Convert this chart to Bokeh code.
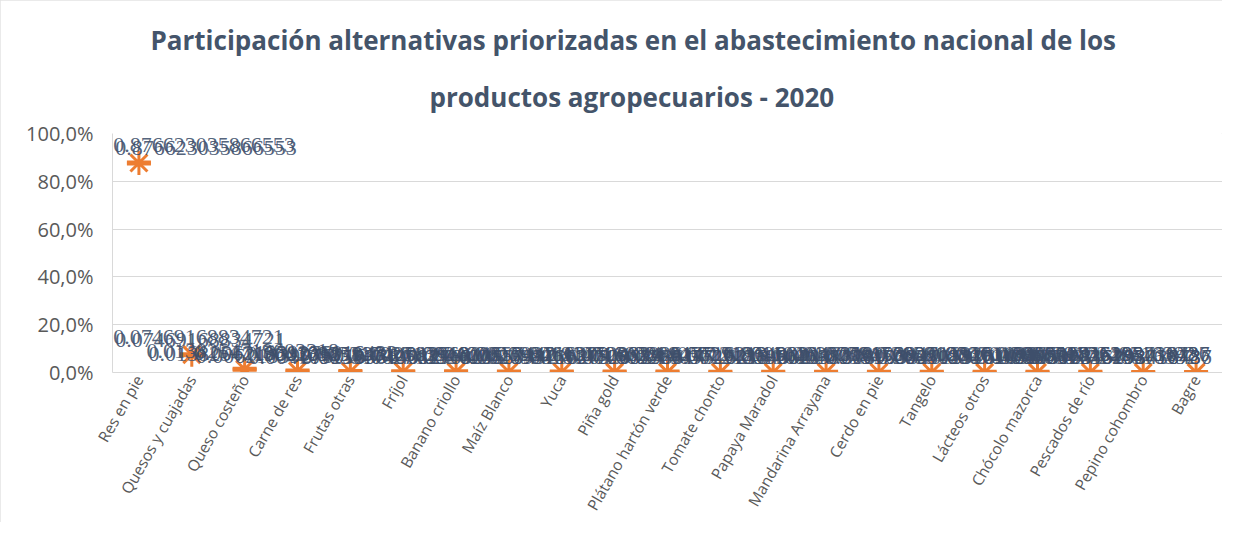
import math
from bokeh.plotting import figure
from bokeh.models import ColumnDataSource, LabelSet, Title, FixedTicker, FactorRange, Range1d
from bokeh.embed import file_html
from bokeh.resources import INLINE

categories = [
    "Res en pie", "Quesos y cuajadas", "Queso costeño", "Carne de res", "Frutas otras",
    "Fríjol", "Banano criollo", "Maíz Blanco", "Yuca", "Piña gold",
    "Plátano hartón verde", "Tomate chonto", "Papaya Maradol", "Mandarina Arrayana",
    "Cerdo en pie", "Tangelo", "Lácteos otros", "Chócolo mazorca", "Pescados de río",
    "Pepino cohombro", "Bagre",
]
shares = [
    0.876623035866553, 0.0746916883472100, 0.0138254719603318, 0.00621839275016433,
    0.00410925836140127, 0.00331740582963015, 0.00271394620857442, 0.00240281593716209,
    0.00209846137520934, 0.00181470362985147, 0.00160328947516213, 0.00140572913648021,
    0.00121839562047318, 0.00110463827915692, 0.00100384726591834, 0.000903847159261038,
    0.000802836149275163, 0.000701294851736205, 0.000603917248516392, 0.000502846193718436,
    0.000415298436787,
]
y_ticks = [0.0, 0.2, 0.4, 0.6, 0.8, 1.0]
y_tick_labels = ["0,0%", "20,0%", "40,0%", "60,0%", "80,0%", "100,0%"]
title_lines = [
    "Participación alternativas priorizadas en el abastecimiento nacional de los",
    "productos agropecuarios - 2020",
]

ORANGE = "#ED7D31"
TXT = "#44546A"
LBL = "#3E4F6B"
GRAY = "#595959"

W, H = 1222, 522
LEFT, RIGHT, TOP, BOTTOM = 112, 0, 133, 149
FRAME_W = W - LEFT - RIGHT

p = figure(x_range=FactorRange(*categories), y_range=Range1d(0, 1),
           width=W, height=H, output_backend="svg", toolbar_location=None,
           min_border_left=LEFT, min_border_right=RIGHT,
           min_border_top=TOP, min_border_bottom=BOTTOM)
p.outline_line_color = None
p.background_fill_color = "white"
p.border_fill_color = "white"
p.styles = {"outline": "1px solid #E3E3E3", "outline-offset": "-1px"}

step = FRAME_W / len(categories)

# two-line title (second line first, so it sits nearest the plot)
t2 = Title(text=title_lines[1], align="left", offset=317, standoff=38,
           text_font="Open Sans", text_font_size="26px", text_font_style="bold",
           text_color=TXT)
t1 = Title(text=title_lines[0], align="left", offset=38, standoff=0,
           text_font="Open Sans", text_font_size="26px", text_font_style="bold",
           text_color=TXT, text_line_height=0.8)
p.add_layout(t2, "above")
p.add_layout(t1, "above")

# axes
p.yaxis.ticker = FixedTicker(ticks=y_ticks)
p.yaxis.major_label_overrides = {t: l for t, l in zip(y_ticks, y_tick_labels)}
p.yaxis.major_label_text_font = "Open Sans"
p.yaxis.major_label_text_font_size = "20px"
p.yaxis.major_label_text_color = GRAY
p.yaxis.axis_line_color = "#D9D9D9"
p.yaxis.major_tick_line_color = None
p.yaxis.major_tick_out = 0
p.yaxis.major_tick_in = 0
p.yaxis.minor_tick_line_color = None
p.yaxis.major_label_standoff = 19

p.xaxis.major_label_orientation = math.pi / 3
p.xaxis.major_label_text_font = "Open Sans"
p.xaxis.major_label_text_font_size = "15.5px"
p.xaxis.major_label_text_color = GRAY
p.xaxis.axis_line_color = "#D9D9D9"
p.xaxis.major_tick_line_color = None
p.xaxis.major_tick_out = 0
p.xaxis.major_tick_in = 0
p.xaxis.minor_tick_line_color = None
p.xaxis.major_label_standoff = 4

p.xgrid.grid_line_color = None
p.ygrid.grid_line_color = "#D9D9D9"
p.ygrid.grid_line_width = 1

# labels in Excel general format, centred above points but kept inside the chart
FS = 22
label_texts = [f"{v:.15g}" for v in shares]
offs = []
for i, s in enumerate(label_texts):
    w = len(s) * 0.5 * FS
    c = (i + 0.5) * step
    o = 0.0
    if c - w / 2 < 0:
        o = -(c - w / 2)
    elif c + w / 2 > FRAME_W - 8:
        o = FRAME_W - 8 - (c + w / 2)
    offs.append(o)

src = ColumnDataSource(dict(cat=categories, val=shares, lab=label_texts,
                            xo=offs, xo2=[o - 2 for o in offs]))

p.scatter("cat", "val", source=src, marker="asterisk", size=24, line_color=ORANGE,
          line_width=3)
p.scatter("cat", "val", source=src, marker="dash", size=24, line_color=ORANGE,
          line_width=5)

for xo_col, yo in (("xo", 15), ("xo2", 18)):
    ls = LabelSet(x="cat", y="val", text="lab", source=src, x_offset=xo_col, y_offset=yo,
                  text_align="center", text_baseline="middle", text_font="Open Sans",
                  text_font_size=f"{FS}px", text_color=LBL, text_alpha=0.9)
    p.add_layout(ls)

open("out.html", "w").write(file_html(p, INLINE))
